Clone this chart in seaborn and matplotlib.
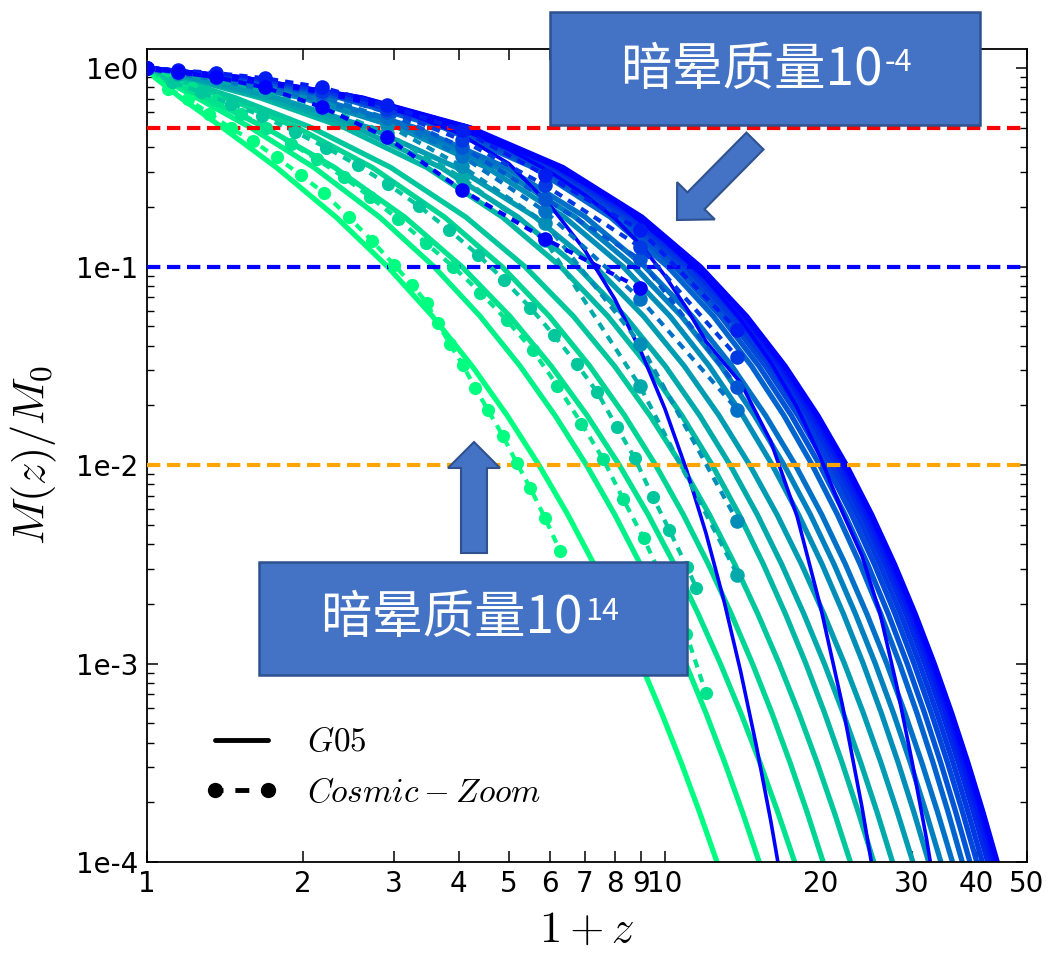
import matplotlib
matplotlib.use("Agg")
import matplotlib.pyplot as plt
import matplotlib.transforms as mtransforms
from matplotlib.lines import Line2D
from matplotlib.patches import Rectangle, FancyArrow
from matplotlib.ticker import FixedLocator, FixedFormatter, LogLocator, NullFormatter, NullLocator
import seaborn as sns

# ---------------------------------------------------------------------------
# G05 model tracks: 1+z at which M(z)/M0 falls to each of these levels
# ---------------------------------------------------------------------------
mass_ratio_levels = [1.0, 0.8913, 0.7079, 0.5012, 0.3162, 0.1778, 0.1, 0.05623, 0.03162,
                     0.01778, 0.01, 0.005623, 0.003162, 0.001778, 0.001, 5.623e-4, 3.162e-4,
                     1.778e-4, 1e-4, 3.981e-5]

g05_m14 = [1.0, 1.039, 1.163, 1.400, 1.778, 2.317, 2.914, 3.558, 4.241, 4.959, 5.712, 6.494,
           7.296, 8.125, 8.981, 9.855, 10.751, 11.666, 12.6, 14.13]
g05_m13 = [1.0, 1.065, 1.250, 1.587, 2.101, 2.812, 3.582, 4.397, 5.249, 6.135, 7.055, 8.001,
           8.966, 9.953, 10.967, 12.001, 13.05, 14.118, 15.2, 16.966]
g05_m12 = [1.0, 1.077, 1.296, 1.695, 2.302, 3.144, 4.054, 5.019, 6.027, 7.075, 8.164, 9.282,
           10.425, 11.592, 12.792, 14.015, 15.257, 16.52, 17.8, 19.89]
g05_m11 = [1.0, 1.119, 1.426, 1.952, 2.722, 3.753, 4.846, 5.982, 7.154, 8.357, 9.594, 10.853,
           12.13, 13.428, 14.751, 16.091, 17.445, 18.816, 20.2, 22.444]
g05_m10 = [1.0, 1.135, 1.484, 2.081, 2.955, 4.126, 5.367, 6.657, 7.987, 9.354, 10.758, 12.188,
           13.638, 15.111, 16.613, 18.135, 19.672, 21.228, 22.8, 25.348]
g05_m9 = [1.0, 1.196, 1.657, 2.408, 3.469, 4.854, 6.290, 7.760, 9.260, 10.783, 12.338, 13.911,
          15.490, 17.087, 18.707, 20.338, 21.981, 23.635, 25.3, 27.985]
g05_m8 = [1.0, 1.214, 1.716, 2.535, 3.692, 5.203, 6.769, 8.372, 10.007, 11.669, 13.365, 15.079,
          16.802, 18.543, 20.311, 22.089, 23.880, 25.685, 27.5, 30.428]
g05_m7 = [1.0, 1.235, 1.786, 2.686, 3.957, 5.615, 7.335, 9.096, 10.891, 12.716, 14.578, 16.461,
          18.352, 20.264, 22.205, 24.158, 26.125, 28.107, 30.1, 33.316]
g05_m6 = [1.0, 1.314, 1.997, 3.063, 4.528, 6.396, 8.302, 10.230, 12.174, 14.133, 16.118, 18.112,
          20.109, 22.112, 24.140, 26.168, 28.206, 30.250, 32.3, 35.596]
g05_m5 = [1.0, 1.332, 2.054, 3.182, 4.730, 6.706, 8.722, 10.761, 12.817, 14.889, 16.987, 19.096,
          21.208, 23.326, 25.471, 27.616, 29.771, 31.932, 34.1, 37.585]
g05_m4 = [1.0, 1.350, 2.111, 3.301, 4.933, 7.017, 9.142, 11.292, 13.459, 15.644, 17.857, 20.080,
          22.306, 24.540, 26.802, 29.063, 31.335, 33.614, 35.9, 39.575]
g05_m3 = [1.0, 1.456, 2.369, 3.738, 5.563, 7.844, 10.125, 12.406, 14.688, 16.969, 19.25, 21.531,
          23.813, 26.094, 28.375, 30.656, 32.938, 35.219, 37.5, 41.15]
g05_m2 = [1.0, 1.473, 2.418, 3.835, 5.725, 8.088, 10.45, 12.813, 15.175, 17.538, 19.9, 22.263,
          24.625, 26.988, 29.35, 31.713, 34.075, 36.438, 38.8, 42.58]
g05_m1 = [1.0, 1.488, 2.463, 3.925, 5.875, 8.313, 10.75, 13.188, 15.625, 18.063, 20.5, 22.938,
          25.375, 27.813, 30.25, 32.688, 35.125, 37.563, 40.0, 43.9]
g05_m0 = [1.0, 1.5, 2.5, 4.0, 6.0, 8.5, 11.0, 13.5, 16.0, 18.5, 21.0, 23.5, 26.0, 28.5, 31.0,
          33.5, 36.0, 38.5, 41.0, 45.0]
g05_mm1 = [1.0, 1.513, 2.538, 4.075, 6.125, 8.688, 11.25, 13.813, 16.375, 18.938, 21.5, 24.063,
           26.625, 29.188, 31.75, 34.313, 36.875, 39.438, 42.0, 46.1]
g05_mm2 = [1.0, 1.523, 2.568, 4.135, 6.225, 8.838, 11.45, 14.063, 16.675, 19.288, 21.9, 24.513,
           27.125, 29.738, 32.35, 34.963, 37.575, 40.188, 42.8, 46.98]
g05_mm3 = [1.0, 1.53, 2.59, 4.18, 6.3, 8.95, 11.6, 14.25, 16.9, 19.55, 22.2, 24.85, 27.5, 30.15,
           32.8, 35.45, 38.1, 40.75, 43.4, 47.64]
g05_mm4 = [1.0, 1.535, 2.605, 4.21, 6.35, 9.025, 11.7, 14.375, 17.05, 19.725, 22.4, 25.075,
           27.75, 30.425, 33.1, 35.775, 38.45, 41.125, 43.8, 49.08]

# log10 of the halo mass attached to each track
g05_log_mass = [14, 13, 12, 11, 10, 9, 8, 7, 6, 5, 4, 3, 2, 1, 0, -1, -2, -3, -4]
g05_tracks = [g05_m14, g05_m13, g05_m12, g05_m11, g05_m10, g05_m9, g05_m8, g05_m7,
              g05_m6, g05_m5, g05_m4, g05_m3, g05_m2, g05_m1, g05_m0, g05_mm1,
              g05_mm2, g05_mm3, g05_mm4]

# G05 tracks for the individual zoom haloes (thin blue)
g05_halo_a_x = [1.0, 1.5, 2.0, 3.0, 4.0, 5.0, 6.0, 7.0, 8.0, 9.0, 10.0, 11.0, 12.0, 13.0, 14.0,
                15.0, 16.0, 17.0]
g05_halo_a_y = [1.0, 0.91, 0.79, 0.63, 0.47, 0.33, 0.204, 0.1213, 0.0687, 0.0371, 0.0192, 0.0095,
                0.00454, 0.00207, 0.000912, 0.000389, 0.000162, 6.5e-5]
g05_halo_b_x = [1.0, 2.0, 3.0, 4.0, 5.0, 6.0, 7.0, 8.0, 9.0, 10.0, 11.0, 12.0, 14.0, 16.0, 18.0,
                20.0, 22.0, 24.0, 26.0]
g05_halo_b_y = [1.0, 0.79, 0.63, 0.5, 0.39, 0.3, 0.23, 0.175, 0.128, 0.09, 0.062, 0.042, 0.026,
                0.0132, 0.0055, 0.0019, 0.00062, 0.00019, 5.6e-5]
g05_halo_c_x = [1.0, 2.0, 4.0, 6.0, 8.0, 10.0, 12.0, 14.0, 16.0, 18.0, 20.0, 22.0, 24.0, 26.0,
                28.0, 30.0, 32.0, 34.0]
g05_halo_c_y = [1.0, 0.8, 0.51, 0.33, 0.215, 0.135, 0.087, 0.054, 0.033, 0.0195, 0.0108, 0.0058,
                0.0035, 0.0018, 0.00078, 0.00032, 0.00013, 5e-5]

# Cosmic-Zoom main-branch histories, densely sampled levels
cz_m14_x = [1.0, 1.1, 1.2, 1.32, 1.45, 1.6, 1.78, 1.98, 2.2, 2.45, 2.72, 3.0, 3.25, 3.47, 3.64,
            3.84, 4.07, 4.30, 4.55, 4.86, 5.18, 5.49, 5.87, 6.27]
cz_m14_y = [1.0, 0.79, 0.70, 0.59, 0.50, 0.43, 0.355, 0.29, 0.234, 0.178, 0.135, 0.102, 0.081,
            0.0655, 0.052, 0.041, 0.032, 0.0245, 0.019, 0.0141, 0.0102, 0.0077, 0.0054, 0.0037]
cz_m12_x = [1.0, 1.1, 1.22, 1.36, 1.52, 1.7, 1.9, 2.13, 2.4, 2.7, 3.05, 3.45, 3.9, 4.4, 4.95,
            5.55, 6.2, 6.9, 7.6, 8.3, 9.1, 10.0, 11.0, 12.0]
cz_m12_y = [1.0, 0.902, 0.794, 0.692, 0.589, 0.501, 0.417, 0.347, 0.282, 0.224, 0.174, 0.132,
            0.1, 0.0741, 0.0537, 0.038, 0.0251, 0.0162, 0.0107, 0.00676, 0.00427, 0.00251,
            0.00141, 0.000708]
cz_m10_x = [1.0, 1.12, 1.27, 1.45, 1.67, 1.93, 2.22, 2.55, 2.92, 3.35, 3.83, 4.35, 4.9, 5.5,
            6.1, 6.75, 7.4, 8.08, 8.75, 9.48, 10.2, 11.03, 11.5]
cz_m10_y = [1.0, 0.85, 0.757, 0.663, 0.575, 0.478, 0.398, 0.324, 0.26, 0.202, 0.153, 0.115,
            0.0853, 0.062, 0.0453, 0.0324, 0.0233, 0.0155, 0.0108, 0.0069, 0.0047, 0.00306, 0.0024]

# Cosmic-Zoom haloes on the coarse snapshot list
cz_snap_x = [1.0, 1.15, 1.36, 1.69, 2.18, 2.9, 4.06, 5.87, 8.95, 13.8]
cz_m8_y = [1.0, 0.94, 0.87, 0.77, 0.64, 0.47, 0.28, 0.136, 0.025, 0.0028]
cz_m6_y = [1.0, 0.95, 0.89, 0.80, 0.68, 0.52, 0.32, 0.166, 0.041, 0.0052]
cz_m4_y = [1.0, 0.96, 0.91, 0.83, 0.72, 0.56, 0.36, 0.19, 0.069, 0.019]
cz_m2_y = [1.0, 0.965, 0.92, 0.85, 0.75, 0.60, 0.40, 0.22, 0.109, 0.0247]
cz_m0_y = [1.0, 0.97, 0.93, 0.87, 0.77, 0.62, 0.434, 0.257, 0.126, 0.035]
cz_mm2_y = [1.0, 0.975, 0.945, 0.89, 0.80, 0.65, 0.487, 0.29, 0.153, 0.048]
cz_mm4_x = [1.0, 1.15, 1.36, 1.69, 2.18, 2.9, 4.06, 5.87, 8.95]
cz_mm4_y = [1.0, 0.955, 0.90, 0.80, 0.636, 0.449, 0.243, 0.138, 0.078]

cz_dense = [(14, cz_m14_x, cz_m14_y), (12, cz_m12_x, cz_m12_y), (10, cz_m10_x, cz_m10_y)]
cz_coarse = [(8, cz_snap_x, cz_m8_y), (6, cz_snap_x, cz_m6_y), (4, cz_snap_x, cz_m4_y),
             (2, cz_snap_x, cz_m2_y), (0, cz_snap_x, cz_m0_y), (-2, cz_snap_x, cz_mm2_y),
             (-4, cz_mm4_x, cz_mm4_y)]

# reference mass fractions
ref_levels = [0.5, 0.1, 0.01]
ref_colors = ["#ff0000", "#0000ff", "#ffa500"]

x_tick_values = [1, 2, 3, 4, 5, 6, 7, 8, 9, 10, 20, 30, 40, 50]
x_tick_labels = ["1", "2", "3", "4", "5", "6", "7", "8", "9", "10", "20", "30", "40", "50"]
y_tick_values = [1e0, 1e-1, 1e-2, 1e-3, 1e-4]
y_tick_labels = ["1e0", "1e-1", "1e-2", "1e-3", "1e-4"]

# ---------------------------------------------------------------------------
sns.set_theme(style="ticks", rc={"axes.edgecolor": "black", "text.color": "black",
                                 "axes.labelcolor": "black", "xtick.color": "black",
                                 "ytick.color": "black"})
plt.rcParams["font.family"] = ["DejaVu Sans"]
plt.rcParams["mathtext.fontset"] = "cm"

W, H = 1062, 958
fig = plt.figure(figsize=(W / 100, H / 100), dpi=100)
ax = fig.add_axes([147 / W, 1 - 862 / H, 880 / W, 813 / H])
ax.set_xscale("log")
ax.set_yscale("log")

cmap = plt.get_cmap("winter")


def mass_color(logm):
    return cmap((logm + 4) / 18.0)


for logm, track in zip(g05_log_mass, g05_tracks):
    sns.lineplot(x=track, y=mass_ratio_levels, color=mass_color(logm), lw=3.8,
                 estimator=None, sort=False, ax=ax, zorder=2)

for hx, hy in [(g05_halo_a_x, g05_halo_a_y), (g05_halo_b_x, g05_halo_b_y),
               (g05_halo_c_x, g05_halo_c_y)]:
    sns.lineplot(x=hx, y=hy, color="#0000ff", lw=2.6, estimator=None, sort=False,
                 ax=ax, zorder=2.5)

for lev, col in zip(ref_levels, ref_colors):
    ax.axhline(lev, color=col, lw=3, ls=(0, (3.2, 1.6)), zorder=3)

for logm, cx, cy in cz_dense:
    sns.lineplot(x=cx, y=cy, color=mass_color(logm), lw=3, linestyle=(0, (2.0, 1.7)),
                 marker="o", markersize=9.5, markeredgewidth=0, estimator=None,
                 sort=False, ax=ax, zorder=4)
for logm, cx, cy in cz_coarse:
    sns.lineplot(x=cx, y=cy, color=mass_color(logm), lw=3, linestyle=(0, (2.0, 1.7)),
                 marker="o", markersize=10.5, markeredgewidth=0, estimator=None,
                 sort=False, ax=ax, zorder=4)

ax.set_xlim(1, 50)
ax.set_ylim(1e-4, 1.25)

ax.xaxis.set_major_locator(FixedLocator(x_tick_values))
ax.xaxis.set_major_formatter(FixedFormatter(x_tick_labels))
ax.xaxis.set_minor_locator(NullLocator())
ax.yaxis.set_major_locator(FixedLocator(y_tick_values))
ax.yaxis.set_major_formatter(FixedFormatter(y_tick_labels))
ax.yaxis.set_minor_locator(LogLocator(base=10, subs=range(2, 10)))
ax.yaxis.set_minor_formatter(NullFormatter())

ax.tick_params(which="both", direction="in", top=True, right=True, bottom=True, left=True)
ax.tick_params(which="major", length=8, width=1.1, labelsize=20, pad=6)
ax.tick_params(which="minor", length=5, width=1.0)
for sp in ax.spines.values():
    sp.set_linewidth(1.3)
    sp.set_color("black")

ax.set_xlabel("$1+z$", fontsize=32)
ax.set_ylabel("$M(z)/M_0$", fontsize=32)
ax.xaxis.set_label_coords(0.5, -0.056)
ax.yaxis.set_label_coords(-0.10, 0.5)

handles = [Line2D([], [], color="black", lw=3.5),
           Line2D([], [], color="black", lw=3.5, ls=(1.22, (2.86, 2.45)), marker="o",
                  markersize=11, markeredgewidth=0)]
ax.legend(handles, ["$G05$", "$Cosmic-Zoom$"], loc="upper left",
          bbox_to_anchor=(0.066, 0.168), frameon=False, fontsize=24, handlelength=2.2,
          handletextpad=0.85, labelspacing=0.52, borderpad=0, borderaxespad=0, numpoints=2)

# ---------------------------------------------------------------------------
# callout boxes and arrows (figure pixel coordinates, origin top-left)
px = mtransforms.Affine2D().scale(1, -1).translate(0, H).scale(1 / W, 1 / H) + fig.transFigure
box_face, box_edge = "#4472C4", "#2F528F"
cjk = ["Noto Sans CJK SC", "DejaVu Sans"]

for (bx, by, bw, bh) in [(550, 12, 430, 113), (259, 562, 428, 113)]:
    fig.add_artist(Rectangle((bx, by), bw, bh, transform=px, facecolor=box_face,
                             edgecolor=box_edge, lw=1.8, zorder=5))

fig.add_artist(FancyArrow(755, 141, -78, 79, width=24, head_width=53, head_length=27,
                          length_includes_head=True, transform=px, facecolor=box_face,
                          edgecolor=box_edge, lw=1.5, zorder=5))
fig.add_artist(FancyArrow(474, 553, 0, -111, width=26, head_width=52, head_length=26,
                          length_includes_head=True, transform=px, facecolor=box_face,
                          edgecolor=box_edge, lw=1.5, zorder=5))

fig.text(883, 85, "暗晕质量10", transform=px, ha="right", va="baseline", color="white",
         fontsize=37, family=cjk, zorder=6)
fig.text(885, 71, "-4", transform=px, ha="left", va="baseline", color="white",
         fontsize=22, family=cjk, zorder=6)
fig.text(583, 633, "暗晕质量10", transform=px, ha="right", va="baseline", color="white",
         fontsize=37, family=cjk, zorder=6)
fig.text(585, 620, "14", transform=px, ha="left", va="baseline", color="white",
         fontsize=22, family=cjk, zorder=6)

fig.savefig("out.png", dpi=100)
